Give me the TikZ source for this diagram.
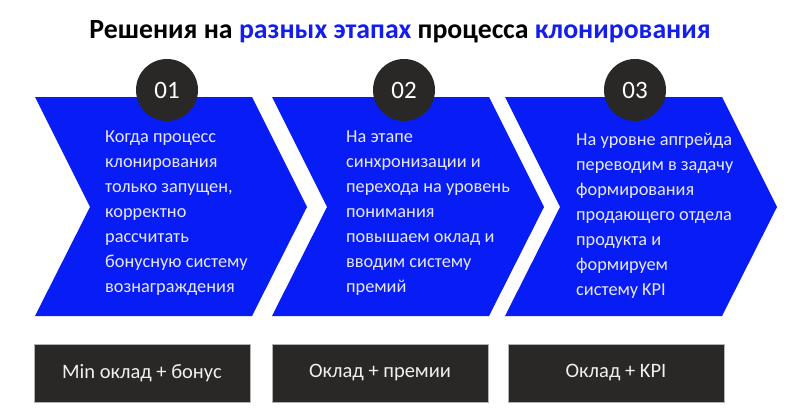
\documentclass[tikz,border=0pt]{standalone}
\usepackage{fontspec}
\setmainfont{Carlito}
\definecolor{chevblue}{RGB}{8,28,246}
\definecolor{titleblue}{RGB}{20,30,235}
\definecolor{darkbox}{RGB}{42,40,38}
\definecolor{paletext}{RGB}{230,232,248}
\tikzstyle{chevron}=[fill=chevblue,draw=none]
\tikzstyle{stepnum}=[circle,fill=darkbox,text=white,minimum size=62pt,inner sep=0pt,font=\fontsize{25}{25}\selectfont]
\tikzstyle{steptext}=[anchor=north west,align=left,inner sep=0pt,text=paletext,font=\fontsize{18.3}{25}\selectfont]
\tikzstyle{paybox}=[fill=darkbox,draw=gray!60,line width=0.6pt,minimum width=216pt,minimum height=58pt,inner sep=0pt,text=white!88!gray,font=\fontsize{20.5}{20.5}\selectfont]

\begin{document}
\begin{tikzpicture}[x=1pt,y=-1pt]
	\useasboundingbox[fill=white] (0,0) rectangle (800,420);
	\node[anchor=base,inner sep=0pt,font=\fontsize{27.8}{28}\selectfont\bfseries] (title) at (400,38)
		{Решения на \textcolor{titleblue}{разных этапах} процесса \textcolor{titleblue}{клонирования}};
	% chevrons
	\draw[chevron] (35,97) -- (252,97) -- (307,207) -- (252,316) -- (35,316) -- (90,207) -- cycle;
	\draw[chevron] (272,97) -- (489,97) -- (544,207) -- (489,316) -- (272,316) -- (327,207) -- cycle;
	\draw[chevron] (505,97) -- (722,97) -- (777,207) -- (722,316) -- (505,316) -- (560,207) -- cycle;
	% numbers
	\node[stepnum] (num1) at (167,90) {01};
	\node[stepnum] (num2) at (404,90) {02};
	\node[stepnum] (num3) at (635,90) {03};
	% texts
	\node[steptext] (text1) at (105,131)
		{Когда процесс\\клонирования\\только запущен,\\корректно\\рассчитать\\бонусную систему\\вознаграждения};
	\node[steptext] (text2) at (346,131)
		{На этапе\\синхронизации и\\перехода на уровень\\понимания\\повышаем оклад и\\вводим систему\\премий};
	\node[steptext] (text3) at (576,132.5)
		{На уровне апгрейда\\переводим в задачу\\формирования\\продающего отдела\\продукта и\\формируем\\систему KPI};
	% pay boxes
	\node[paybox] (pay1) at (142,373) {Min оклад + бонус};
	\node[paybox] (pay2) at (380,373) {Оклад + премии};
	\node[paybox] (pay3) at (616,373) {Оклад + KPI};
\end{tikzpicture}
\end{document}
